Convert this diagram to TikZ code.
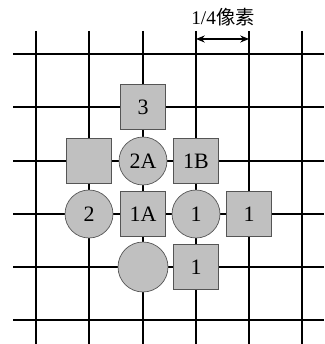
\documentclass[tikz,border=0pt]{standalone}
\usepackage{fontspec}
\setmainfont{Liberation Serif}
\newfontfamily\cjk{Noto Sans CJK SC}
\usetikzlibrary{arrows.meta}
\definecolor{cellgray}{HTML}{C0C0C0}
\definecolor{edgegray}{HTML}{555555}

\begin{document}
\begin{tikzpicture}[x=0.02cm, y=-0.02cm,
    grid/.style={line width=0.7pt, black},
    sq/.style={draw=edgegray, line width=0.4pt, fill=cellgray, minimum size=0.9cm, inner sep=0pt, font=\fontsize{12.5}{14}\selectfont},
    rd/.style={circle, draw=edgegray, line width=0.4pt, fill=cellgray, minimum size=0.96cm, inner sep=0pt, font=\fontsize{12.5}{14}\selectfont},
]
\useasboundingbox (0,0) rectangle (324,344);

% grid
\foreach \y in {54,107,161,214,267,320}
    \draw[grid] (13,\y) -- (324,\y);
\foreach \x in {36,89,143,196,249,302}
    \draw[grid] (\x,31) -- (\x,344);

% sub-pixel samples
\node[sq] (s3) at (143,107) {3};
\node[sq] (sblank) at (89,161) {};
\node[rd] (c2a) at (143,161) {2A};
\node[sq] (s1b) at (196,161) {1B};
\node[rd] (c2) at (89,214) {2};
\node[sq] (s1a) at (143,214) {1A};
\node[rd] (c1) at (196,214) {1};
\node[sq] (s1) at (249,214) {1};
\node[rd, minimum size=1cm] (cblank) at (143,267) {};
\node[sq] (s1low) at (196,267) {1};

% quarter pixel mark
\coordinate (qa) at (196,39);
\coordinate (qb) at (249,39);
\draw[line width=0.6pt, {Stealth[length=5pt,width=4pt]}-{Stealth[length=5pt,width=4pt]}] (qa) -- (qb);
\node[font=\fontsize{11}{13}\selectfont] (qlabel) at (223,17) {1/4{\cjk 像素}};

\end{tikzpicture}
\end{document}
